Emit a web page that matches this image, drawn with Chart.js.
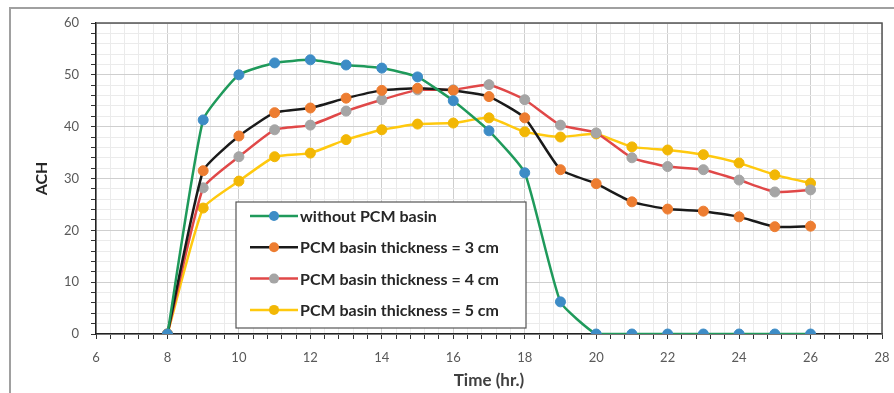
<!DOCTYPE html>
<html>
<head>
<meta charset="utf-8">
<script src="https://cdn.jsdelivr.net/npm/chart.js@4"></script>
<style>
  html, body { margin: 0; padding: 0; background: #fff; }
  #wrap { position: relative; width: 894px; height: 393px; }
  #frame { position: absolute; left: 9px; top: 7px; right: 0; bottom: 0;
           border-top: 2px solid #a0a0a0; border-left: 2px solid #a0a0a0; }
  canvas { position: absolute; left: 0; top: 0; }
</style>
</head>
<body>
<div id="wrap">
  <div id="frame"></div>
  <canvas id="chart" width="894" height="393"></canvas>
</div>
<script>
// hours of the day
const hours = [8, 9, 10, 11, 12, 13, 14, 15, 16, 17, 18, 19, 20, 21, 22, 23, 24, 25, 26];

const withoutPCM = [0, 41.3, 50, 52.3, 52.9, 51.9, 51.3, 49.6, 45, 39.2, 31.1, 6.2, 0, 0, 0, 0, 0, 0, 0];
const pcm3cm = [0, 31.5, 38.2, 42.7, 43.6, 45.5, 47, 47.4, 47, 45.8, 41.7, 31.7, 29, 25.5, 24.1, 23.7, 22.6, 20.7, 20.8];
const pcm4cm = [0, 28.2, 34.2, 39.4, 40.3, 43, 45.2, 47.1, 47.1, 48.1, 45.2, 40.3, 38.8, 34, 32.3, 31.7, 29.7, 27.4, 27.8];
const pcm5cm = [0, 24.3, 29.5, 34.2, 34.9, 37.5, 39.4, 40.5, 40.7, 41.7, 39, 38, 38.6, 36.1, 35.5, 34.6, 33, 30.7, 29.1];

const seriesNames = [
    "without PCM basin",
    "PCM basin thickness = 3 cm",
    "PCM basin thickness = 4 cm",
    "PCM basin thickness = 5 cm"
];

const xMin = 6, xMax = 28, xMajor = 2, xMinor = 0.4;
const yMin = 0, yMax = 60, yMajor = 10, yMinor = 2;

function toPoints(values) {
    return hours.map((h, i) => ({x: h, y: values[i]}));
}

function isMajor(v, step) {
    return Math.abs(v / step - Math.round(v / step)) < 1e-6;
}

function makeDataset(label, values, lineColor, markerColor) {
    return {
        label: label,
        data: toPoints(values),
        borderColor: lineColor,
        backgroundColor: markerColor,
        pointBackgroundColor: markerColor,
        pointBorderColor: markerColor,
        borderWidth: 2.5,
        pointRadius: 5,
        pointBorderWidth: 1,
        tension: 0.15,
        fill: false
    };
}

// legend drawn inside the plot area, like the original
const insideLegend = {
    id: 'insideLegend',
    afterDatasetsDraw(chart) {
        const ctx = chart.ctx;
        const area = chart.chartArea;
        const left = area.left + 140, top = area.top + 179;
        const w = 290, h = 126, rowH = 31.3;
        ctx.save();
        ctx.fillStyle = '#fff';
        ctx.fillRect(left, top, w, h);
        ctx.strokeStyle = '#555';
        ctx.lineWidth = 1.2;
        ctx.strokeRect(left, top, w, h);
        ctx.font = 'bold 16px Lato';
        ctx.textBaseline = 'middle';
        chart.data.datasets.forEach((ds, i) => {
            const y = top + 14 + i * rowH;
            ctx.strokeStyle = ds.borderColor;
            ctx.lineWidth = 2.5;
            ctx.beginPath();
            ctx.moveTo(left + 14, y);
            ctx.lineTo(left + 62, y);
            ctx.stroke();
            ctx.fillStyle = ds.pointBackgroundColor;
            ctx.beginPath();
            ctx.arc(left + 38, y, 5, 0, Math.PI * 2);
            ctx.fill();
            ctx.fillStyle = '#262626';
            ctx.fillText(ds.label, left + 64, y + 1);
        });
        ctx.restore();
    }
};

const plotBorder = {
    id: 'plotBorder',
    afterDraw(chart) {
        const ctx = chart.ctx;
        const a = chart.chartArea;
        ctx.save();
        ctx.strokeStyle = '#555';
        ctx.lineWidth = 1.5;
        ctx.beginPath();
        ctx.moveTo(a.left, a.top);
        ctx.lineTo(a.right, a.top);
        ctx.lineTo(a.right, a.bottom);
        ctx.stroke();
        ctx.restore();
    }
};

new Chart(document.getElementById('chart'), {
    type: 'line',
    data: {
        datasets: [
            makeDataset(seriesNames[0], withoutPCM, '#1f9a5b', '#3d8cc6'),
            makeDataset(seriesNames[1], pcm3cm, '#1a1a1a', '#ed7d31'),
            makeDataset(seriesNames[2], pcm4cm, '#e04848', '#a5a5a5'),
            makeDataset(seriesNames[3], pcm5cm, '#ffc90e', '#f2b705')
        ]
    },
    options: {
        responsive: false,
        animation: false,
        layout: { padding: { left: 32, right: 12, top: 23, bottom: 0 } },
        plugins: {
            legend: { display: false },
            tooltip: { enabled: false }
        },
        scales: {
            x: {
                type: 'linear',
                min: xMin,
                max: xMax,
                afterFit: (scale) => {
                    scale.height = 59;
                    scale.paddingRight = 0;
                    scale.paddingLeft = 0;
                },
                ticks: {
                    stepSize: xMinor,
                    autoSkip: false,
                    maxRotation: 0,
                    padding: 11,
                    color: '#595959',
                    font: { family: 'Lato', size: 13 },
                    callback: (v) => isMajor(v, xMajor) ? String(Math.round(v)) : ''
                },
                grid: {
                    color: (c) => isMajor(c.tick.value, xMajor) ? '#cfcfcf' : '#ebebeb',
                    tickColor: '#333',
                    tickLength: 5,
                    lineWidth: 1
                },
                border: { color: '#222', width: 1.5 },
                title: {
                    display: true,
                    text: 'Time (hr.)',
                    color: '#404040',
                    font: { family: 'Lato', size: 17, weight: 'bold' },
                    padding: { top: 0, bottom: 2 }
                }
            },
            y: {
                min: yMin,
                max: yMax,
                afterFit: (scale) => { scale.width = 64; },
                ticks: {
                    stepSize: yMinor,
                    autoSkip: false,
                    padding: 12,
                    color: '#595959',
                    font: { family: 'Lato', size: 13 },
                    callback: (v) => isMajor(v, yMajor) ? String(v) : ''
                },
                grid: {
                    color: (c) => isMajor(c.tick.value, yMajor) ? '#cfcfcf' : '#ebebeb',
                    tickColor: '#333',
                    tickLength: 5,
                    lineWidth: 1
                },
                border: { color: '#222', width: 1.5 },
                title: {
                    display: true,
                    text: 'ACH',
                    color: '#262626',
                    font: { family: 'Lato', size: 16, weight: 'bold' },
                    padding: { top: 0, bottom: 14 }
                }
            }
        }
    },
    plugins: [insideLegend, plotBorder]
});
</script>
</body>
</html>
